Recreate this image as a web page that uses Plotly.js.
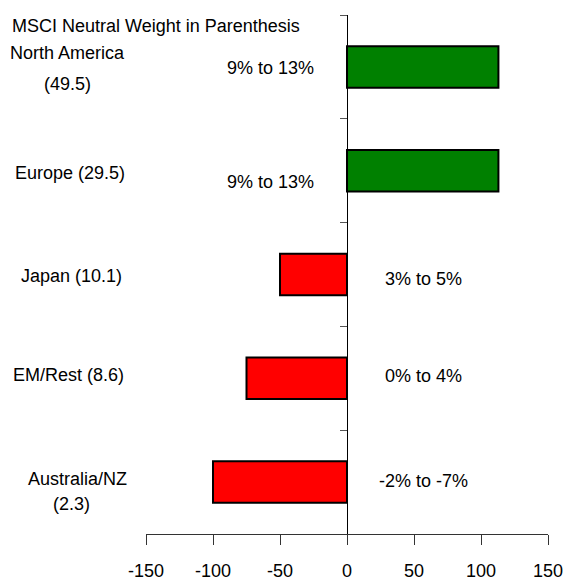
<!DOCTYPE html>
<html>
<head>
<meta charset="utf-8">
<script src="https://cdn.plot.ly/plotly-3.0.1.min.js"></script>
<style>
  html, body { margin: 0; padding: 0; background: #fff; }
  #chart { width: 565px; height: 585px; }
</style>
</head>
<body>
<div id="chart"></div>
<script>
// ---- data ----
const categories = ["North America", "Europe", "Japan", "EM/Rest", "Australia/NZ"];
const categoryLabels = ["North America<br>(49.5)", "Europe (29.5)", "Japan (10.1)", "EM/Rest (8.6)", "Australia/NZ<br>(2.3)"];
const values = [113, 113, -50, -75, -100];
const rangeLabels = ["9% to 13%", "9% to 13%", "3% to 5%", "0% to 4%", "-2% to -7%"];
const tickVals = [-150, -100, -50, 0, 50, 100, 150];
const tickText = ["-150", "-100", "-50", "0", "50", "100", "150"];
const chartTitle = "MSCI Neutral Weight in Parenthesis";

// ---- layout tuning (pixel placement of text lines, not data) ----
// per category label: list of [line centre x in px, vertical shift in px]
const catLabelPlacement = [
  [[67, 14], [67.5, -17.5]],
  [[69.5, -2]],
  [[71.5, -1]],
  [[68, 3]],
  [[77.7, 2.7], [71.8, -21.6]]
];
const rangeLabelShift = [-1, -11, -4, 2, 1];

const FONT = "'Liberation Sans', Arial, sans-serif";
const FS = 18;
const PLOT_LEFT = 146, PLOT_WIDTH = 402;

const colors = values.map(v => v >= 0 ? "#008000" : "#FF0000");

const trace = {
  type: "bar",
  orientation: "h",
  x: values,
  y: categories,
  width: 0.4,
  marker: { color: colors, line: { color: "#000", width: 2 } },
  hoverinfo: "x+y"
};

const annotations = [];
categories.forEach((c, i) => {
  const lines = categoryLabels[i].split("<br>");
  lines.forEach((line, j) => {
    const p = catLabelPlacement[i][j];
    annotations.push({
      xref: "paper", yref: "y",
      x: (p[0] - PLOT_LEFT) / PLOT_WIDTH, y: c,
      xanchor: "center", yanchor: "middle", align: "center",
      text: line, showarrow: false,
      yshift: p[1],
      font: { family: FONT, size: FS, color: "#000" }
    });
  });
  annotations.push({
    xref: "x", yref: "y",
    x: values[i] >= 0 ? -57 : 57, y: c,
    xanchor: "center", yanchor: "middle",
    text: rangeLabels[i], showarrow: false,
    yshift: rangeLabelShift[i],
    font: { family: FONT, size: FS, color: "#000" }
  });
});

const layout = {
  width: 565, height: 585,
  margin: { l: PLOT_LEFT, r: 565 - PLOT_LEFT - PLOT_WIDTH, t: 15, b: 51 },
  paper_bgcolor: "#fff", plot_bgcolor: "#fff",
  showlegend: false,
  font: { family: FONT, size: FS, color: "#000" },
  title: {
    text: chartTitle,
    xref: "container", x: 12 / 565, xanchor: "left",
    yref: "container", y: 1 - 26 / 585, yanchor: "middle",
    font: { family: FONT, size: FS, color: "#000" }
  },
  xaxis: {
    range: [-150, 150],
    tickmode: "array", tickvals: tickVals, ticktext: tickText,
    ticks: "outside", ticklen: 10, tickwidth: 1, tickcolor: "#333",
    showline: true, linecolor: "#333", linewidth: 1,
    showgrid: false, zeroline: false,
    ticklabelstandoff: 10,
    tickfont: { family: FONT, size: FS, color: "#000" },
    fixedrange: true
  },
  yaxis: {
    type: "category",
    range: [4.5, -0.5],
    anchor: "free", position: 0.5,
    showline: true, linecolor: "#000", linewidth: 1,
    ticks: "outside", ticklen: 7, tickwidth: 1, tickcolor: "#555",
    tickson: "boundaries",
    showticklabels: false, showgrid: false, zeroline: false,
    fixedrange: true
  },
  annotations: annotations
};

Plotly.newPlot("chart", [trace], layout, { displayModeBar: false, staticPlot: true });
</script>
</body>
</html>
